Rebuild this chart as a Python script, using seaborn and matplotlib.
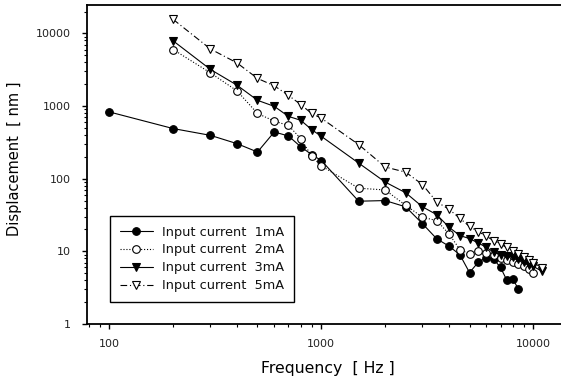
import matplotlib
matplotlib.use("Agg")
import matplotlib.pyplot as plt
import seaborn as sns
import pandas as pd
from matplotlib.ticker import FixedLocator, FuncFormatter, LogLocator, NullFormatter

# ---- data ----
freq_1mA = [100, 200, 300, 400, 500, 600, 700, 800, 900, 1000, 1500, 2000, 2500,
            3000, 3500, 4000, 4500, 5000, 5500, 6000, 6500, 7000, 7500, 8000, 8500]
disp_1mA = [830, 490, 395, 304, 233, 440, 387, 275, 215, 178, 49, 50, 41,
            24, 14.9, 11.8, 9.0, 5.1, 7.1, 8.2, 7.8, 6.0, 4.0, 4.2, 3.0]

freq_2mA = [200, 300, 400, 500, 600, 700, 800, 900, 1000, 1500, 2000, 2500, 3000,
            3500, 4000, 4500, 5000, 5500, 6000, 6500, 7000, 7500, 8000, 8500, 9000,
            9500, 10000]
disp_2mA = [6000, 2860, 1620, 790, 620, 540, 356, 205, 150, 74, 70, 43, 29.5,
            26.5, 17.4, 10.6, 9.2, 10.0, 9.6, 8.9, 8.2, 7.7, 7.2, 6.7, 6.2,
            5.7, 5.1]

freq_3mA = [200, 300, 400, 500, 600, 700, 800, 900, 1000, 1500, 2000, 2500, 3000,
            3500, 4000, 4500, 5000, 5500, 6000, 6500, 7000, 7500, 8000, 8500, 9000,
            9500, 10000, 11000]
disp_3mA = [7900, 3190, 1940, 1200, 990, 720, 637, 474, 383, 164, 90, 64, 41,
            32, 21.5, 16.5, 15, 13, 11.4, 9.7, 9.0, 8.7, 8.3, 7.9, 7.1,
            6.4, 6.2, 5.3]

freq_5mA = [200, 300, 400, 500, 600, 700, 800, 900, 1000, 1500, 2000, 2500, 3000,
            3500, 4000, 4500, 5000, 5500, 6000, 6500, 7000, 7500, 8000, 8500, 9000,
            9500, 10000, 11000]
disp_5mA = [15600, 6100, 3930, 2400, 1900, 1400, 1050, 790, 680, 295, 145, 123, 83,
            48, 38, 28.5, 22, 18.7, 16.2, 14, 12.5, 11.3, 10.2, 9.2, 8.3,
            7.6, 7.0, 5.9]

labels = ["Input current  1mA", "Input current  2mA",
          "Input current  3mA", "Input current  5mA"]
x_ticks = [100, 1000, 10000]
y_ticks = [1, 10, 100, 1000, 10000]

# ---- style ----
sns.set_theme(style="ticks")
plt.rcParams["font.family"] = ["DejaVu Sans"]

fig = plt.figure(figsize=(5.61, 3.83), dpi=100)
ax = fig.add_axes([87 / 561, 1 - 324 / 383, (561 - 87) / 561, (324 - 5) / 383])
ax.set_xscale("log")
ax.set_yscale("log")

series = [
    (freq_1mA, disp_1mA, labels[0], "o", "black", "-"),
    (freq_2mA, disp_2mA, labels[1], "o", "white", ":"),
    (freq_3mA, disp_3mA, labels[2], "v", "black", "-"),
    (freq_5mA, disp_5mA, labels[3], "v", "white", (0, (6, 2.5, 1, 2.5))),
]
for f, d, lab, mk, fc, ls in series:
    df = pd.DataFrame({"Frequency": f, "Displacement": d})
    sns.lineplot(data=df, x="Frequency", y="Displacement", ax=ax, color="black",
                 marker=mk, markersize=5.5, markerfacecolor=fc,
                 markeredgecolor="black", markeredgewidth=0.8,
                 linewidth=0.8, linestyle=ls, label=lab)

ax.set_xlim(78.5, 13500)
ax.set_ylim(1, 24600)

fmt = FuncFormatter(lambda v, p: f"{int(round(v))}")
ax.xaxis.set_major_locator(FixedLocator(x_ticks))
ax.yaxis.set_major_locator(FixedLocator(y_ticks))
ax.xaxis.set_major_formatter(fmt)
ax.yaxis.set_major_formatter(fmt)
ax.xaxis.set_minor_locator(LogLocator(base=10, subs=range(2, 10), numticks=20))
ax.yaxis.set_minor_locator(LogLocator(base=10, subs=range(2, 10), numticks=20))
ax.xaxis.set_minor_formatter(NullFormatter())
ax.yaxis.set_minor_formatter(NullFormatter())

ax.tick_params(axis="both", which="major", direction="out", length=3.5, width=1,
               color="black", labelsize=8, labelcolor="#222222")
ax.tick_params(axis="y", which="major", pad=8)
ax.tick_params(axis="x", which="major", pad=7)
ax.tick_params(axis="both", which="minor", direction="out", length=2, width=0.8,
               color="black")

for side in ["left", "bottom", "top"]:
    ax.spines[side].set_visible(True)
    ax.spines[side].set_color("black")
    ax.spines[side].set_linewidth(1.3)
ax.spines["right"].set_visible(False)

ax.set_xlabel("Frequency  [ Hz ]", fontsize=11.3, color="black", va="center")
ax.set_ylabel("Displacement  [ nm ]", fontsize=10.5, color="black", va="center")
ax.xaxis.set_label_coords((328 - 87) / 474, (324 - 368) / 319)
ax.yaxis.set_label_coords((15 - 87) / 474, (324 - 159) / 319)

leg = ax.legend(loc="lower left", bbox_to_anchor=((110 - 87) / 474, (324 - 302) / 319),
                borderaxespad=0, frameon=True, fancybox=False, edgecolor="black",
                framealpha=1, fontsize=9.3, handlelength=2.6, handletextpad=0.7,
                labelspacing=0.38, borderpad=0.75)
leg.get_frame().set_linewidth(1.0)
for t in leg.get_texts():
    t.set_color("#111111")

fig.savefig("out.png", dpi=100)
